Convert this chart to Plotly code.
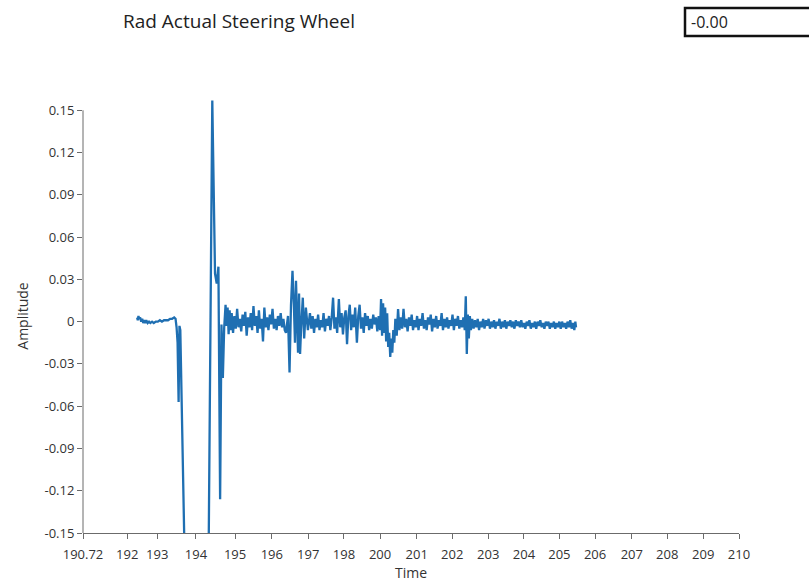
import plotly.graph_objects as go

# ---------------- data ----------------
time = [
    192.31, 192.33, 192.35, 192.37, 192.40, 192.43, 192.46, 192.49, 192.52, 192.55,
    192.58, 192.62, 192.66, 192.70, 192.75, 192.80, 192.86, 192.92, 192.98, 193.04,
    193.10, 193.16, 193.22, 193.28, 193.34, 193.40, 193.44, 193.47, 193.50, 193.53,
    193.555, 193.58, 193.85, 194.35, 194.52, 194.60, 194.65, 194.70, 194.75, 194.79,
    194.83, 194.87, 194.91, 194.94, 194.97, 195.00, 195.03, 195.06,
    195.09, 195.13, 195.17, 195.21, 195.25, 195.29, 195.33, 195.37, 195.41, 195.45,
    195.49, 195.53, 195.57, 195.61, 195.65, 195.69, 195.73, 195.77, 195.81, 195.85,
    195.89, 195.93, 195.97, 196.01, 196.05, 196.09, 196.13, 196.17, 196.21, 196.25,
    196.29, 196.33, 196.37, 196.41, 196.45, 196.49, 196.53, 196.57, 196.61, 196.65,
    196.686, 196.745, 196.79, 196.833, 196.877, 196.92, 196.95, 196.98, 197.01, 197.04,
    197.07, 197.10, 197.13, 197.18, 197.22, 197.27, 197.33, 197.39,
    197.43, 197.47, 197.51, 197.55, 197.59, 197.63, 197.67, 197.71, 197.75, 197.79,
    197.83, 197.87, 197.91, 197.95, 197.99, 198.03, 198.07, 198.11, 198.15, 198.19,
    198.24, 198.28, 198.32, 198.36, 198.40, 198.44, 198.48, 198.52, 198.56, 198.60,
    198.64, 198.68, 198.72, 198.77, 198.81, 198.85, 198.89, 198.93, 198.97, 199.01,
    199.05, 199.09, 199.13, 199.17, 199.21, 199.25, 199.29, 199.33, 199.37,
    199.41, 199.45, 199.48, 199.51, 199.54, 199.57, 199.60, 199.63, 199.66, 199.69,
    199.72, 199.75, 199.78, 199.81, 199.84, 199.87, 199.90, 199.94, 199.98, 200.02,
    200.06, 200.10, 200.14, 200.18, 200.22, 200.26, 200.30, 200.34, 200.38, 200.42,
    200.46, 200.50, 200.54, 200.58, 200.62, 200.66, 200.70, 200.74, 200.78, 200.82,
    200.86, 200.90, 200.94, 200.98, 201.02, 201.06, 201.10, 201.14, 201.18, 201.22,
    201.26, 201.30, 201.34, 201.38, 201.42, 201.46, 201.50, 201.54, 201.58, 201.62,
    201.66, 201.70, 201.74, 201.78, 201.82, 201.86, 201.90, 201.94, 201.97, 202.00,
    202.03, 202.06, 202.09, 202.12,
    202.16, 202.20, 202.24, 202.28, 202.32, 202.36, 202.40, 202.44, 202.48, 202.52,
    202.56, 202.60, 202.64, 202.68, 202.72, 202.76, 202.80, 202.84, 202.88, 202.92,
    202.96, 203.00, 203.04, 203.08, 203.12, 203.16, 203.20, 203.24, 203.28, 203.32,
    203.36, 203.40, 203.44, 203.48, 203.52, 203.56, 203.60, 203.64, 203.68, 203.72,
    203.76, 203.80, 203.84, 203.88, 203.92, 203.96, 204.00, 204.04, 204.08, 204.12,
    204.16, 204.20, 204.24, 204.28, 204.32, 204.36, 204.40, 204.44, 204.48, 204.52,
    204.56, 204.60, 204.64, 204.68, 204.72, 204.76, 204.80, 204.84, 204.88, 204.92,
    204.96, 205.00, 205.04, 205.08, 205.12, 205.16, 205.19, 205.21,
]

amplitude = [
    0.003, 0.001, 0.004, 0.002, 0.003, 0.000, 0.002, -0.001, 0.001, -0.001,
    0.001, -0.001, 0.000, -0.001, 0.000, -0.001, 0.000, 0.000, 0.001, 0.000,
    0.001, 0.001, 0.001, 0.002, 0.002, 0.003, 0.002, -0.004, -0.015, -0.057,
    -0.003, -0.006, -0.350, -0.350, 0.157, 0.034, 0.027, 0.039, -0.126, -0.002,
    -0.040, -0.004, 0.012, -0.003, 0.010, -0.009, 0.008, -0.006,
    0.006, -0.008, 0.004, -0.005, 0.009, -0.004, 0.002, -0.007, 0.005, -0.003,
    0.007, -0.010, 0.003, -0.004, 0.006, -0.006, 0.011, -0.003, 0.004, -0.008,
    0.008, -0.005, 0.002, -0.014, 0.010, -0.004, 0.003, -0.006, 0.005, -0.002,
    0.009, -0.005, 0.002, -0.006, 0.004, -0.003, 0.006, -0.004, 0.002, -0.006,
    -0.008, 0.004, -0.036, 0.012, 0.036, 0.010, -0.015, 0.029, 0.002, -0.022,
    0.020, -0.023, -0.005, 0.017, -0.012, 0.010, -0.006, 0.006,
    -0.005, 0.004, -0.008, 0.002, -0.004, 0.005, -0.006, 0.001, -0.004, 0.006,
    -0.007, 0.002, -0.003, 0.004, -0.006, 0.003, 0.017, -0.005, 0.003, -0.008,
    0.016, -0.004, 0.006, -0.009, 0.003, 0.008, -0.016, 0.004, 0.012, -0.006,
    0.005, -0.004, 0.010, -0.015, 0.004, 0.012, -0.005, 0.003, -0.008, 0.006,
    -0.003, 0.004, -0.006, 0.002, -0.005, 0.005, -0.002, 0.003, -0.007,
    0.004, -0.006, 0.016, -0.010, 0.013, -0.008, 0.010, -0.014, 0.006, -0.018,
    -0.008, -0.025, -0.012, -0.022, -0.006, -0.015, 0.002, -0.010, 0.009, -0.006,
    0.003, -0.005, 0.009, -0.004, 0.002, -0.007, 0.003, -0.003, 0.005, -0.006,
    0.001, -0.004, 0.004, -0.006, 0.002, -0.003, 0.006, -0.005, 0.001, -0.006,
    0.003, -0.002, 0.005, -0.007, 0.002, -0.004, 0.004, -0.005, 0.001, -0.003,
    0.006, -0.006, 0.002, -0.004, 0.003, -0.005, 0.001, -0.003, 0.005, -0.006,
    0.002, -0.003, 0.004, -0.005, 0.001, -0.004, 0.003, -0.006, 0.018, -0.023,
    0.005, -0.012, 0.004, -0.006,
    0.002, -0.005, 0.001, -0.004, 0.002, -0.006, 0.000, -0.004, 0.002, -0.005,
    0.001, -0.003, 0.002, -0.005, 0.000, -0.004, 0.001, -0.005, 0.000, -0.003,
    0.002, -0.005, 0.000, -0.004, 0.001, -0.005, 0.000, -0.003, 0.001, -0.004,
    0.000, -0.005, 0.001, -0.003, 0.000, -0.004, 0.001, -0.004, -0.001, -0.005,
    0.000, -0.003, 0.001, -0.005, -0.001, -0.004, 0.000, -0.005, 0.000, -0.003,
    0.001, -0.004, -0.001, -0.005, 0.000, -0.003, 0.000, -0.005, -0.001, -0.004,
    0.000, -0.005, -0.001, -0.004, 0.000, -0.005, 0.000, -0.004, -0.001, -0.005,
    0.000, -0.004, 0.001, -0.005, -0.001, -0.006, 0.000, -0.004,
]

x_tick_labels = ["190.72", "192", "193", "194", "195", "196", "197", "198", "200",
                 "201", "202", "203", "204", "205", "206", "207", "208", "209", "210"]
x_tick_vals = [190.72, 192.02, 192.90, 194.04, 195.19, 196.27, 197.34, 198.39, 199.45,
               200.53, 201.57, 202.63, 203.68, 204.72, 205.77, 206.85, 207.89, 208.95, 210.0]
y_tick_vals = [-0.15, -0.12, -0.09, -0.06, -0.03, 0, 0.03, 0.06, 0.09, 0.12, 0.15]
y_tick_labels = ["-0.15", "-0.12", "-0.09", "-0.06", "-0.03", "0",
                 "0.03", "0.06", "0.09", "0.12", "0.15"]

title_text = "Rad Actual Steering Wheel"
current_value_text = "-0.00"

# ---------------- figure ----------------
FONT = "Open Sans, Noto Sans, sans-serif"
TEXT_COLOR = "#333333"
AXIS_COLOR = "#6b6b6b"

fig = go.Figure()
fig.add_trace(go.Scatter(
    x=time, y=amplitude, mode="lines",
    line=dict(color="#1f6fb2", width=2.3),
    hoverinfo="x+y", showlegend=False,
))

fig.update_layout(
    width=809, height=588,
    margin=dict(l=83, r=70, t=99, b=55),
    paper_bgcolor="white", plot_bgcolor="white",
    font=dict(family=FONT, size=13, color=TEXT_COLOR),
    xaxis=dict(
        range=[190.72, 210], showgrid=False, zeroline=False,
        showline=True, linecolor=AXIS_COLOR, linewidth=1,
        ticks="outside", ticklen=5, tickcolor=AXIS_COLOR,
        tickmode="array", tickvals=x_tick_vals, ticktext=x_tick_labels,
        tickfont=dict(size=13, color=TEXT_COLOR), ticklabelstandoff=4,
        title=dict(text="Time", font=dict(size=14, color=TEXT_COLOR), standoff=4),
    ),
    yaxis=dict(
        range=[-0.15, 0.158], showgrid=False, zeroline=False,
        showline=False,
        ticks="outside", ticklen=5, tickcolor=AXIS_COLOR,
        tickmode="array", tickvals=y_tick_vals, ticktext=y_tick_labels,
        tickfont=dict(size=13, color=TEXT_COLOR),
        title=dict(text="Amplitude", font=dict(size=14, color=TEXT_COLOR), standoff=12),
    ),
)

# y axis line from -0.15 to 0.15
fig.add_shape(type="line", xref="paper", yref="y", x0=0, x1=0,
              y0=y_tick_vals[0], y1=y_tick_vals[-1],
              line=dict(color=AXIS_COLOR, width=1))

# title
fig.add_annotation(text=title_text, xref="paper", yref="paper",
                   x=(121 - 83) / 656, y=1 + (99 - 21) / 434,
                   xanchor="left", yanchor="middle", showarrow=False,
                   font=dict(family=FONT, size=19, color="#222222"))

# value box
fig.add_shape(type="rect", xref="paper", yref="paper",
              x0=(685 - 83) / 656, x1=(814 - 83) / 656,
              y0=1 + (99 - 36) / 434, y1=1 + (99 - 8) / 434,
              line=dict(color="#111111", width=2.5), fillcolor="white")
fig.add_annotation(text=current_value_text, xref="paper", yref="paper",
                   x=(689 - 83) / 656, y=1 + (99 - 22) / 434,
                   xanchor="left", yanchor="middle", showarrow=False,
                   font=dict(family=FONT, size=16, color="#222222"))

fig.write_html("out.html")
